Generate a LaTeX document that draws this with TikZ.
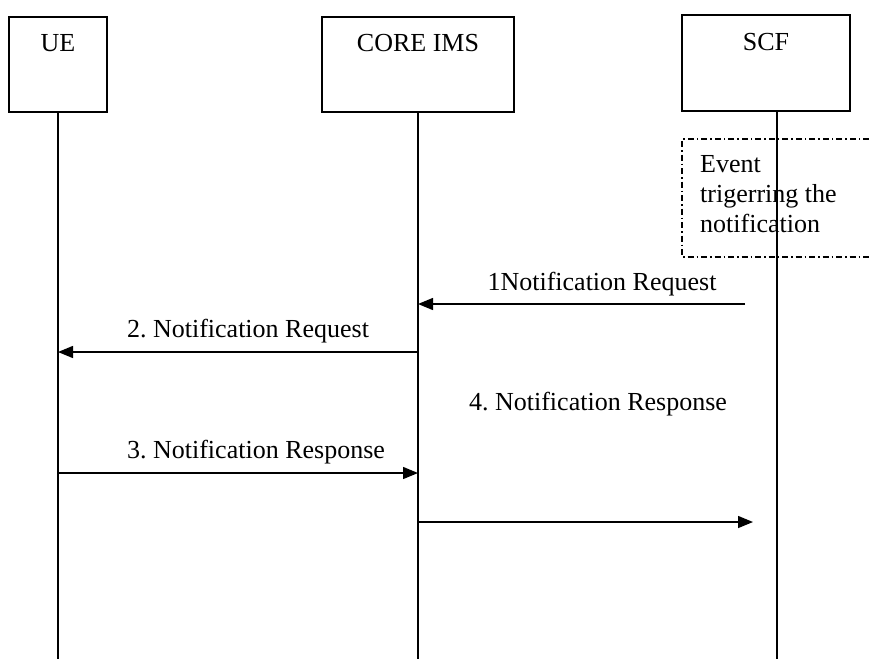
\documentclass[tikz,border=0pt]{standalone}
\usepackage{fontspec}
\setmainfont{Liberation Serif}
\usetikzlibrary{arrows.meta}
\frenchspacing
\begin{document}
\begin{tikzpicture}[x=1pt,y=-1pt,
  ent/.style={draw,line width=1.7pt,minimum width=98pt,minimum height=95pt,inner sep=0pt},
  txt/.style={font=\fontsize{26}{30}\selectfont\frenchspacing,inner sep=0pt},
  life/.style={line width=1.4pt},
  msg/.style={line width=1.4pt,-{Triangle[length=15pt,width=12pt]}},
  evbox/.style={line width=1.3pt,dash pattern=on 6pt off 3pt on 1.5pt off 3pt}]
\useasboundingbox (0,0) rectangle (869,659);
% entity boxes
\node[ent] (ue) at (58,64.5) {};
\node[ent,minimum width=192pt] (ims) at (418,64.5) {};
\node[ent,minimum width=168pt,minimum height=96pt] (scf) at (766,63) {};
\node[txt,anchor=base] (uet) at (58,51) {UE};
\node[txt,anchor=base] (imst) at (418,51) {CORE IMS};
\node[txt,anchor=base] (scft) at (766,50) {SCF};
% lifeline ends
\coordinate (uebot) at (58,659);
\coordinate (imsbot) at (418,659);
\coordinate (scfbot) at (777,659);
\coordinate (scftop) at (777,111);
\draw[life] (ue.south) -- (uebot);
\draw[life] (ims.south) -- (imsbot);
\draw[life] (scftop) -- (scfbot);
% event box
\coordinate (eva) at (869,139);
\coordinate (evb) at (682,139);
\coordinate (evc) at (682,257);
\coordinate (evd) at (869,257);
\draw[evbox] (eva) -- (evb) -- (evc) -- (evd);
\node[txt,anchor=base west] (ev) at (700,172) {Event};
\node[txt,anchor=base west] (ev2) at (700,202) {trigerring the};
\node[txt,anchor=base west] (ev3) at (700,232) {notification};
% messages
\coordinate (m1s) at (745,304);
\coordinate (m1e) at (418,304);
\draw[msg] (m1s) -- (m1e);
\node[txt] (l1) at (602,284) {1Notification Request};
\coordinate (m2s) at (418,352);
\coordinate (m2e) at (58,352);
\draw[msg] (m2s) -- (m2e);
\node[txt] (l2) at (248,331) {2. Notification Request};
\node[txt] (l4) at (598,404) {4. Notification Response};
\coordinate (m3s) at (58,473);
\coordinate (m3e) at (418,473);
\draw[msg] (m3s) -- (m3e);
\node[txt] (l3) at (256,452) {3. Notification Response};
\coordinate (m4s) at (418,522);
\coordinate (m4e) at (753,522);
\draw[msg] (m4s) -- (m4e);
\end{tikzpicture}
\end{document}
